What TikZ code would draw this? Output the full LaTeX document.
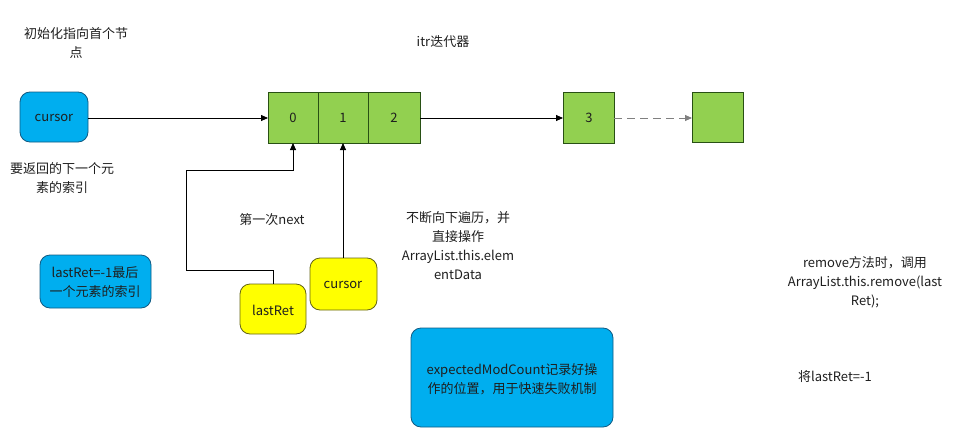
\documentclass[tikz,border=0pt]{standalone}
\usepackage{fontspec}
\setmainfont{Noto Sans CJK SC}
\usetikzlibrary{arrows.meta}
\definecolor{bluef}{RGB}{0,174,239}
\definecolor{blued}{RGB}{16,90,130}
\definecolor{greenf}{RGB}{146,208,80}
\definecolor{greend}{RGB}{40,80,20}
\definecolor{yellowf}{RGB}{255,255,0}
\definecolor{yellowd}{RGB}{100,100,20}
\definecolor{txt}{RGB}{30,30,30}
\begin{document}
\begin{tikzpicture}[x=1pt,y=-1pt,
  every node/.style={font=\fontsize{13}{19}\selectfont, text=txt, inner sep=0pt, align=center},
  bluebox/.style={draw=blued, fill=bluef, rounded corners=10pt, line width=0.8pt},
  yelbox/.style={draw=yellowd, fill=yellowf, rounded corners=10pt, line width=0.8pt},
  cell/.style={draw=greend, fill=greenf, line width=0.8pt},
  conn/.style={line width=0.8pt, -{Triangle[length=7pt,width=6pt]}},
  plain/.style={line width=0.8pt}
]
\useasboundingbox (0,0) rectangle (958,428);
% top texts
\node (t1) at (76,43) {初始化指向首个节\\点};
\node (t2) at (443,42) {itr迭代器};
% cursor blue
\path[bluebox] (20,92) rectangle (88,142);
\node (cur) at (54,118) {cursor};
\coordinate (curR) at (88,118);
\node (t3) at (62,178) {要返回的下一个元\\素的索引};
% cells
\path[cell] (268,92) rectangle (318,143);
\path[cell] (318,92) rectangle (368,143);
\path[cell] (368,92) rectangle (420,143);
\node (c0) at (293,118) {0};
\node (c1) at (343,118) {1};
\node (c2) at (394,118) {2};
\coordinate (c0L) at (268,118);
\coordinate (c2R) at (420,118);
\coordinate (c0B) at (293,143);
\coordinate (c1B) at (343,143);
\path[cell] (563,92) rectangle (614,143);
\node (c3) at (589,118) {3};
\coordinate (c3L) at (563,118);
\coordinate (c3R) at (614,118);
\path[cell] (692,92) rectangle (743,142);
\coordinate (c4L) at (692,118);
\draw[conn] (curR) -- (c0L);
\draw[conn] (c2R) -- (c3L);
\draw[line width=0.8pt, dash pattern=on 8pt off 5pt, -{Triangle[length=7pt,width=6pt]}, color=gray] (c3R) -- (c4L);
% yellow boxes
\path[yelbox] (240,284) rectangle (306,334);
\node (lr) at (273,310) {lastRet};
\coordinate (lrT) at (273,284);
\path[yelbox] (310,258) rectangle (377,310);
\node (cy) at (343,285) {cursor};
\coordinate (cyT) at (343,258);
\draw[conn] (lrT) -- (273,270) -- (186,270) -- (186,170) -- (293,170) -- (c0B);
\draw[conn] (cyT) -- (c1B);
\node (nx) at (272,220) {第一次next};
\node (t4) at (458,246) {不断向下遍历，并\\直接操作\\ArrayList.this.elem\\entData};
% lastRet blue
\path[bluebox] (40,255) rectangle (151,308);
\node (lb) at (95,282) {lastRet=-1最后\\一个元素的索引};
% expectedModCount
\path[bluebox] (411,328) rectangle (613,427);
\node (em) at (512,379) {expectedModCount记录好操\\作的位置，用于快速失败机制};
\node (rm) at (865,282) {remove方法时，调用\\ArrayList.this.remove(last\\Ret);};
\node (lr2) at (835,377) {将lastRet=-1};
\end{tikzpicture}
\end{document}
